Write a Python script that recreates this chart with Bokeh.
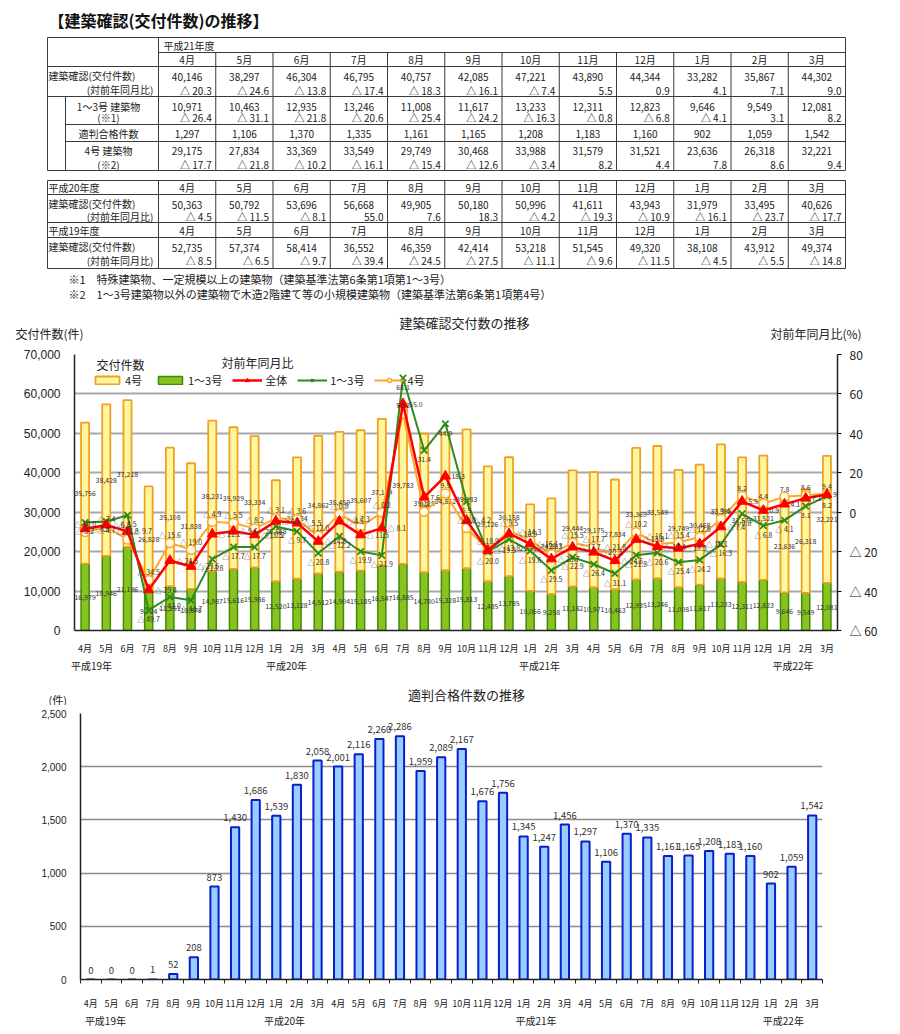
from bokeh.plotting import figure
from bokeh.models import (Range1d, LinearAxis, FixedTicker, NumeralTickFormatter,
                          Label, Legend, LegendItem, ColumnDataSource)
from bokeh.embed import file_html
from bokeh.resources import INLINE
from bokeh.core.properties import value

JP = "Noto Sans CJK JP"

# ---------------- data ----------------
months = ["4月", "5月", "6月", "7月", "8月", "9月", "10月", "11月", "12月", "1月", "2月", "3月"]
month_labels = months * 3
year_labels = ["平成19年", "平成20年", "平成21年", "平成22年"]

# 建築確認 交付件数 (H19.4 - H22.3)
total = [52735, 57374, 58414, 36552, 46359, 42414, 53218, 51545, 49320, 38108, 43912, 49374,
         50363, 50792, 53696, 56668, 49905, 50180, 50996, 41611, 43943, 31979, 33495, 40626,
         40146, 38297, 46304, 46795, 40757, 42085, 47221, 43890, 44344, 33282, 35867, 44302]
# 1～3号建築物
cat13 = [16979, 18946, 21196, 9724, 11251, 10576, 14987, 15616, 15986, 12520, 13128, 14512,
         14904, 15185, 16547, 16885, 14780, 15328, 15813, 12485, 13785, 10066, 9258, 11182,
         10971, 10463, 12935, 13246, 11008, 11617, 13233, 12311, 12823, 9646, 9549, 12081]
# 4号建築物
cat4 = [35756, 38428, 37218, 26828, 35108, 31838, 38231, 35929, 33334, 25588, 30784, 34862,
        35459, 35607, 37149, 39783, 35125, 34852, 35183, 29126, 30158, 21913, 24237, 29444,
        29175, 27834, 33369, 33549, 29749, 30468, 33988, 31579, 31521, 23636, 26318, 32221]
# 対前年同月比 (%)
yoy_total = [-8.5, -6.5, -9.7, -39.4, -24.5, -27.5, -11.1, -9.6, -11.5, -4.5, -5.5, -14.8,
             -4.5, -11.5, -8.1, 55.0, 7.6, 18.3, -4.2, -19.3, -10.9, -16.1, -23.7, -17.7,
             -20.3, -24.6, -13.8, -17.4, -18.3, -16.1, -7.4, 5.5, 0.9, 4.1, 7.1, 9.0]
yoy_13 = [-5.2, -4.7, -1.5, -49.7, -43.0, -44.7, -23.8, -17.7, -17.7, -7.2, -9.7, -20.8,
          -12.2, -19.9, -21.9, 68.1, 31.4, 44.9, 5.5, -20.0, -13.8, -19.6, -29.5, -22.9,
          -26.4, -31.1, -21.8, -20.6, -25.4, -24.2, -16.3, -0.8, -6.8, -4.1, 3.1, 8.2]
yoy_4 = [-10.0, -7.4, -13.8, -34.5, -15.6, -19.0, -4.9, -5.5, -8.2, -3.1, -3.6, -12.0,
         -0.8, -7.3, -0.2, 50.2, 0.2, 9.5, -8.0, -18.9, -9.5, -14.3, -21.3, -15.5,
         -17.7, -21.8, -10.2, -16.1, -15.4, -12.6, -3.4, 8.2, 4.4, 7.8, 8.6, 9.4]
# 適判合格件数
tekihan = [0, 0, 0, 1, 52, 208, 873, 1430, 1686, 1539, 1830, 2058,
           2001, 2116, 2260, 2286, 1959, 2089, 2167, 1676, 1756, 1345, 1247, 1456,
           1297, 1106, 1370, 1335, 1161, 1165, 1208, 1183, 1160, 902, 1059, 1542]

note1 = "※1　特殊建築物、一定規模以上の建築物（建築基準法第6条第1項第1～3号）"
note2 = "※2　1～3号建築物以外の建築物で木造2階建て等の小規模建築物（建築基準法第6条第1項第4号）"

W = 892


def fmt_n(v):
    return f"{v:,}"


def fmt_p(v):
    return f"△ {abs(v):.1f}" if v < 0 else f"{v:.1f}"


def tx(p, xs, ys, texts, align="center", size="10px", color="#222222", bold=False,
       baseline="middle", **kw):
    p.text(x=xs, y=ys, text=texts, text_align=align, text_baseline=baseline,
           text_font=value(JP), text_font_size=size, text_color=color,
           text_font_style="bold" if bold else "normal", **kw)


def canvas(top, bottom):
    p = figure(width=W, height=bottom - top, x_range=Range1d(0, W), y_range=Range1d(bottom, top),
               output_backend="svg", toolbar_location=None, min_border=0,
               x_axis_location=None, y_axis_location=None)
    p.grid.visible = False
    p.outline_line_color = None
    return p


# ---------------- section A : tables + chart-1 headings ----------------
pA = canvas(0, 345)

TL, TLC, TR = 47, 158, 845
CW = (TR - TLC) / 12
col_c = [TLC + (k + 0.5) * CW for k in range(12)]
col_r = [TLC + (k + 1) * CW - 4 for k in range(12)]
bounds = [TLC + k * CW for k in range(1, 12)]

x0, y0, x1, y1 = [], [], [], []


def seg(a, b, c, d):
    x0.append(a); y0.append(b); x1.append(c); y1.append(d)


# table 1 (H21)
for (xa, yy) in [(TL, 37), (TLC, 52), (TL, 66), (TL, 96), (65, 124), (65, 141), (TL, 170)]:
    seg(xa, yy, TR, yy)
seg(TL, 37, TL, 170); seg(65, 96, 65, 170); seg(TLC, 37, TLC, 170); seg(TR, 37, TR, 170)
for bx in bounds:
    seg(bx, 52, bx, 170)
# table 2 (H20 / H19)
for yy in [180, 194, 222, 237, 268]:
    seg(TL, yy, TR, yy)
for bx in [TL, TLC] + bounds + [TR]:
    seg(bx, 180, bx, 268)
pA.segment(x0=x0, y0=y0, x1=x1, y1=y1, line_color="#3a3a3a", line_width=1)

tx(pA, [48], [19], ["【建築確認(交付件数)の推移】"], align="left", size="16px", bold=True, color="#111111")

h21 = slice(24, 36)
h20 = slice(12, 24)
h19 = slice(0, 12)
# table 1 texts
tx(pA, [163], [44.5], ["平成21年度"], align="left")
tx(pA, col_c, [59] * 12, months)
tx(pA, [48], [75], ["建築確認(交付件数)"], align="left")
tx(pA, [153], [89], ["(対前年同月比)"], align="right")
tx(pA, [108, 108, 108, 108, 108], [106, 117, 133, 150, 164],
   ["1～3号 建築物", "(※1)", "適判合格件数", "4号 建築物", "(※2)"])
tx(pA, col_c, [76] * 12, [fmt_n(v) for v in total[h21]])
tx(pA, col_r, [90] * 12, [fmt_p(v) for v in yoy_total[h21]], align="right")
tx(pA, col_c, [106] * 12, [fmt_n(v) for v in cat13[h21]])
tx(pA, col_r, [117] * 12, [fmt_p(v) for v in yoy_13[h21]], align="right")
tx(pA, col_c, [133] * 12, [fmt_n(v) for v in tekihan[h21]])
tx(pA, col_c, [150] * 12, [fmt_n(v) for v in cat4[h21]])
tx(pA, col_r, [164] * 12, [fmt_p(v) for v in yoy_4[h21]], align="right")
# table 2 texts
tx(pA, [48, 48], [187, 230], ["平成20年度", "平成19年度"], align="left")
tx(pA, col_c, [187] * 12, months)
tx(pA, col_c, [230] * 12, months)
tx(pA, [48, 48], [203, 246], ["建築確認(交付件数)", "建築確認(交付件数)"], align="left")
tx(pA, [153, 153], [216, 260], ["(対前年同月比)", "(対前年同月比)"], align="right")
tx(pA, col_c, [204] * 12, [fmt_n(v) for v in total[h20]])
tx(pA, col_r, [216] * 12, [fmt_p(v) for v in yoy_total[h20]], align="right")
tx(pA, col_c, [247] * 12, [fmt_n(v) for v in total[h19]])
tx(pA, col_r, [260] * 12, [fmt_p(v) for v in yoy_total[h19]], align="right")
tx(pA, [68, 68], [278, 293], [note1, note2], align="left", size="11px")
# chart 1 headings
tx(pA, [464], [322], ["建築確認交付数の推移"], size="13px")
tx(pA, [15, 770], [333, 333], ["交付件数(件)", "対前年同月比(%)"], align="left", size="12px")

# ---------------- section B : combo chart ----------------
xs = list(range(36))
srcB = ColumnDataSource(dict(
    x=xs, g=cat13, top4=[g + y for g, y in zip(cat13, cat4)],
    gmid=[g / 2 for g in cat13], ymid=[g + y / 2 for g, y in zip(cat13, cat4)],
    glab=[fmt_n(v) for v in cat13], ylab=[fmt_n(v) for v in cat4],
    pt=yoy_total, p13=yoy_13, p4=yoy_4,
    ptl=[fmt_p(v) for v in yoy_total], p13l=[fmt_p(v) for v in yoy_13], p4l=[fmt_p(v) for v in yoy_4]))

pB = figure(width=W, height=330, x_range=Range1d(-0.5, 35.5), y_range=Range1d(0, 70000),
            output_backend="svg", toolbar_location=None,
            min_border_left=74, min_border_right=55, min_border_top=9, min_border_bottom=42)
pB.extra_y_ranges = {"pct": Range1d(-60, 80)}
pB.outline_line_color = None
pB.xgrid.visible = False
lt = FixedTicker(ticks=list(range(0, 70001, 10000)))
pB.ygrid.ticker = lt
pB.ygrid.grid_line_color = "#A8A8A8"
pB.ygrid.grid_line_width = 2

ly = pB.yaxis[0]
ly.ticker = lt
ly.formatter = NumeralTickFormatter(format="0,0")
ly.major_label_text_font_size = "12px"
ly.major_label_text_color = "#222222"
ly.major_tick_line_color = None
ly.major_tick_out = 0
ly.minor_tick_line_color = None
ly.axis_line_color = "#222222"
ly.axis_line_width = 1.5
ly.major_label_standoff = 14

ra = LinearAxis(y_range_name="pct", ticker=FixedTicker(ticks=[-60, -40, -20, 0, 20, 40, 60, 80]),
                major_label_overrides={-60: "△ 60", -40: "△ 40", -20: "△ 20"})
ra.major_label_text_font = JP
ra.major_label_text_font_size = "12px"
ra.major_label_text_color = "#222222"
ra.major_tick_out = 4
ra.major_tick_in = 0
ra.minor_tick_line_color = None
ra.axis_line_color = "#222222"
ra.axis_line_width = 1.5
ra.major_label_standoff = 8
pB.add_layout(ra, "right")

xa = pB.xaxis[0]
xa.ticker = FixedTicker(ticks=xs)
xa.major_label_overrides = {i: month_labels[i] for i in xs}
xa.major_label_text_font = JP
xa.major_label_text_font_size = "9px"
xa.major_label_text_color = "#222222"
xa.major_tick_line_color = None
xa.major_tick_out = 0
xa.minor_tick_line_color = None
xa.axis_line_color = "#222222"
xa.axis_line_width = 1.5
xa.major_label_standoff = 11

yb_ticks = [0.3, 9.5, 21.44, 33.4]
yb = LinearAxis(ticker=FixedTicker(ticks=yb_ticks),
                major_label_overrides={t: s for t, s in zip(yb_ticks, year_labels)})
yb.major_label_text_font = JP
yb.major_label_text_font_size = "10px"
yb.major_label_text_color = "#222222"
yb.axis_line_color = None
yb.major_tick_line_color = None
yb.major_tick_out = 0
yb.minor_tick_line_color = None
yb.major_label_standoff = 0
pB.add_layout(yb, "below")

rg = pB.vbar(x="x", top="g", bottom=0, width=0.38, source=srcB,
             fill_color="#8CC21F", line_color="#3C8C0A", line_width=1.5)
ry = pB.vbar(x="x", bottom="g", top="top4", width=0.38, source=srcB,
             fill_color="#FFF7A0", line_color="#F2A020", line_width=1.8)
tx(pB, "x", "gmid", "glab", size="7px", color="#333333", source=srcB)
tx(pB, "x", "ymid", "ylab", size="7px", color="#333333", source=srcB)

ol = pB.line("x", "p4", source=srcB, y_range_name="pct", line_color="#FFA726", line_width=2)
om = pB.scatter("x", "p4", source=srcB, y_range_name="pct", marker="circle", size=9,
                line_color="#FFA726", line_width=1.5, fill_color="#FFFDE8")
gl = pB.line("x", "p13", source=srcB, y_range_name="pct", line_color="#2E8B1E", line_width=2)
gm = pB.scatter("x", "p13", source=srcB, y_range_name="pct", marker="x", size=9,
                line_color="#2E8B1E", line_width=1.8)
rl = pB.line("x", "pt", source=srcB, y_range_name="pct", line_color="#FF0000", line_width=2.5)
rm = pB.scatter("x", "pt", source=srcB, y_range_name="pct", marker="triangle", size=10,
                line_color="#FF0000", fill_color="#FF0000")

tx(pB, "x", "p4", "p4l", size="7px", color="#333333", source=srcB, y_range_name="pct", y_offset=-8)
tx(pB, "x", "p13", "p13l", size="7px", color="#333333", source=srcB, y_range_name="pct", y_offset=9)
tx(pB, "x", "pt", "ptl", size="7px", color="#333333", source=srcB, y_range_name="pct",
   align="left", x_offset=6)

legend = Legend(items=[
    LegendItem(label="4号", renderers=[ry]),
    LegendItem(label="1～3号", renderers=[rg]),
    LegendItem(label="全体", renderers=[rl, rm]),
    LegendItem(label="1～3号", renderers=[gl, gm]),
    LegendItem(label="4号", renderers=[ol, om]),
], location="top_left", orientation="horizontal", margin=18, padding=0, spacing=10,
    glyph_width=30, glyph_height=10, label_standoff=3, label_height=10,
    background_fill_alpha=0, border_line_alpha=0,
    label_text_font=JP, label_text_font_size="11px", label_text_color="#222222")
pB.add_layout(legend)

for (lx, lyv, txt) in [(1.67, 67490, "交付件数"), (8.13, 68000, "対前年同月比")]:
    pB.add_layout(Label(x=lx, y=lyv, text=txt, text_align="center", text_baseline="middle",
                        text_font=JP, text_font_size="12px", text_color="#222222"))

# ---------------- section C : 適判合格件数 ----------------
pCt = canvas(675, 705)
tx(pCt, [466], [694], ["適判合格件数の推移"], size="13px")
tx(pCt, [48], [699], ["(件)"], align="left", size="11px")

srcC = ColumnDataSource(dict(x=xs, v=tekihan, lab=[fmt_n(v) for v in tekihan]))
pC = figure(width=W, height=325, x_range=Range1d(-0.5, 35.5), y_range=Range1d(0, 2500),
            output_backend="svg", toolbar_location=None,
            min_border_left=80, min_border_right=70, min_border_top=8, min_border_bottom=47)
pC.outline_line_color = None
pC.xgrid.visible = False
ct = FixedTicker(ticks=list(range(0, 2501, 500)))
pC.ygrid.ticker = ct
pC.ygrid.grid_line_color = "#8C8C8C"
pC.ygrid.grid_line_width = 1.5
cy = pC.yaxis[0]
cy.ticker = ct
cy.formatter = NumeralTickFormatter(format="0,0")
cy.major_label_text_font_size = "10px"
cy.major_label_text_color = "#222222"
cy.major_tick_line_color = None
cy.major_tick_out = 0
cy.minor_tick_line_color = None
cy.axis_line_color = "#222222"
cy.axis_line_width = 1.5
cy.major_label_standoff = 14

cx = pC.xaxis[0]
cx.ticker = FixedTicker(ticks=xs, minor_ticks=[i + 0.5 for i in range(-1, 36)])
cx.major_label_overrides = {i: month_labels[i] for i in xs}
cx.major_label_text_font = JP
cx.major_label_text_font_size = "9px"
cx.major_label_text_color = "#222222"
cx.major_tick_line_color = None
cx.major_tick_out = 0
cx.minor_tick_out = 4
cx.minor_tick_in = 0
cx.minor_tick_line_color = "#222222"
cx.axis_line_color = "#222222"
cx.axis_line_width = 1.5
cx.major_label_standoff = 13

yc_ticks = [0.71, 9.4, 21.6, 33.6]
yc = LinearAxis(ticker=FixedTicker(ticks=yc_ticks),
                major_label_overrides={t: s for t, s in zip(yc_ticks, year_labels)})
yc.major_label_text_font = JP
yc.major_label_text_font_size = "10px"
yc.major_label_text_color = "#222222"
yc.axis_line_color = None
yc.major_tick_line_color = None
yc.major_tick_out = 0
yc.minor_tick_line_color = None
yc.major_label_standoff = 0
pC.add_layout(yc, "below")

pC.vbar(x="x", top="v", bottom=0, width=0.4, source=srcC,
        fill_color="#99CCFF", line_color="#0A1ECC", line_width=2)
tx(pC, "x", "v", "lab", size="9.5px", color="#333333", source=srcC, baseline="bottom", y_offset=-6)

open("out.html", "w").write(file_html([pA, pB, pCt, pC], INLINE))
